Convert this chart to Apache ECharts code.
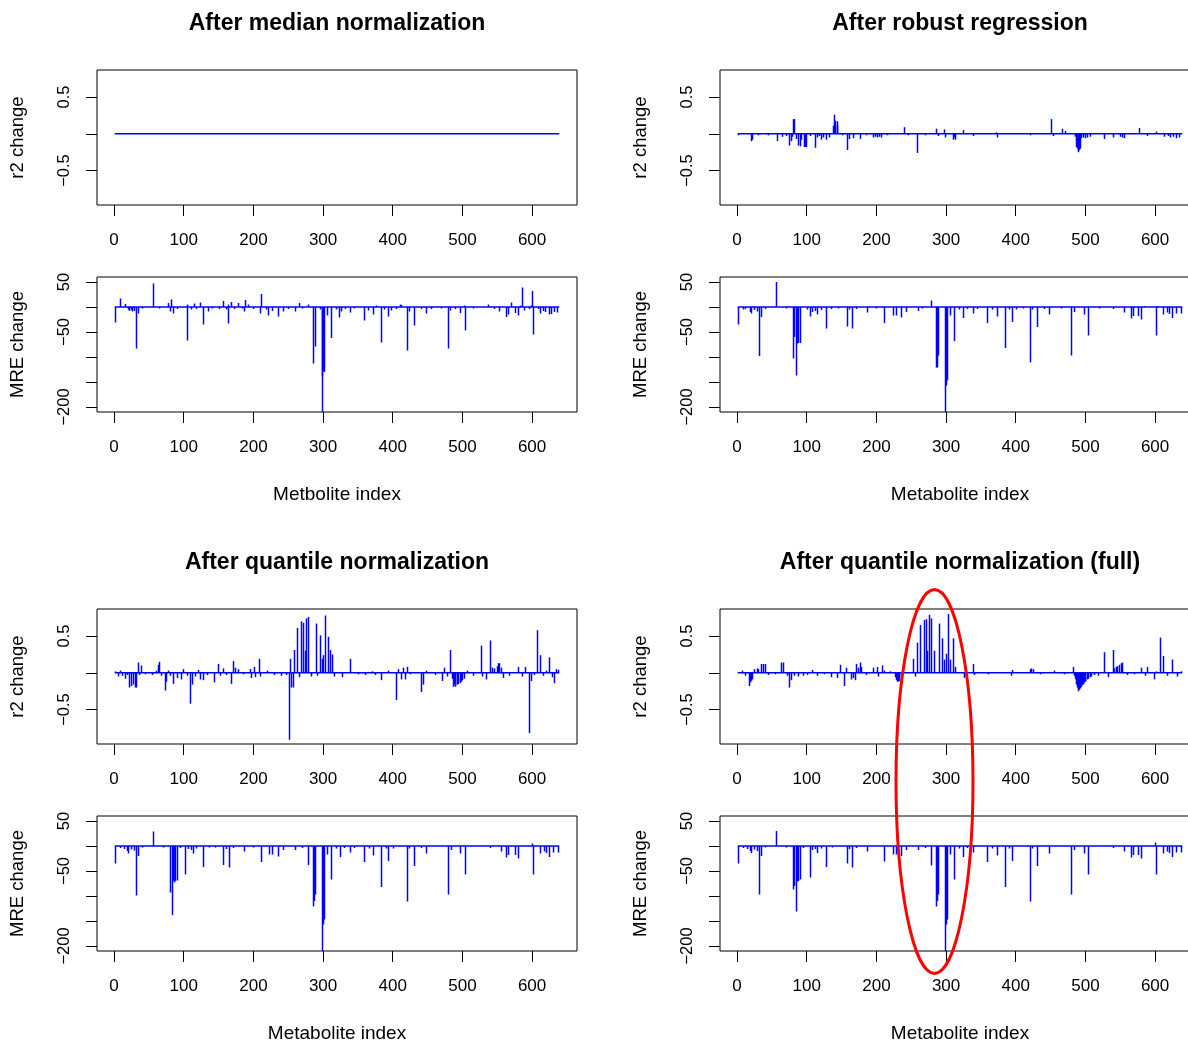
<!DOCTYPE html>
<html>
<head>
<meta charset="utf-8">
<script src="https://cdn.jsdelivr.net/npm/echarts@6/dist/echarts.min.js"></script>
<style>
  html, body { margin: 0; padding: 0; background: #fff; }
  #chart { width: 1188px; height: 1042px; }
</style>
</head>
<body>
<div id="chart"></div>
<script>
// ---- data -------------------------------------------------------------
const metaboliteCount = 639;
const xTicks = [0, 100, 200, 300, 400, 500, 600];
const r2Ticks = [-0.5, 0, 0.5];
const r2TickLabels = [-0.5, 0.5];
const mreTicks = [-200, -150, -100, -50, 0, 50];
const mreTickLabels = [-200, -50, 50];

const panelTitles = [
  'After median normalization',
  'After robust regression',
  'After quantile normalization',
  'After quantile normalization (full)'
];
const xAxisNames = ['Metbolite index', 'Metabolite index', 'Metabolite index', 'Metabolite index'];

// [metabolite index, change]; metabolites not listed have no change
const medianR2 = [];
const medianMRE = [[1,-31],[8,17],[15,6],[20,-5],[22,-8],[24,-6],[26,-9],[29,-8],[32,-83],[35,-13],[40,-3],[56,47],[65,-3],[78,8],[81,-9],[82,15],[85,-13],[90,-4],[104,-67],[105,5],[110,-5],[115,7],[118,-4],[123,9],[127,-35],[135,-9],[140,-3],[150,-4],[156,12],[160,-5],[163,5],[164,-33],[168,10],[172,-4],[178,8],[183,-3],[186,-9],[188,14],[192,5],[200,-4],[210,-13],[211,26],[218,-5],[221,-17],[227,-8],[235,-19],[242,-9],[250,-4],[259,-9],[265,8],[270,-3],[278,5],[286,-113],[289,-79],[295,-5],[298,-215],[299,-138],[300,-128],[301,-130],[306,-17],[312,-62],[318,-5],[323,-21],[326,-9],[332,-4],[338,-11],[345,-3],[359,-27],[365,-7],[372,-15],[376,3],[383,-71],[388,-5],[393,-19],[398,-7],[405,-4],[410,5],[412,4],[421,-87],[424,-9],[431,-37],[440,-4],[448,-13],[455,-4],[470,-3],[479,-83],[482,-7],[490,-4],[497,-12],[503,3],[504,-47],[515,-3],[537,5],[545,-4],[553,-9],[563,-20],[565,-15],[570,9],[575,-12],[580,-17],[583,3],[585,39],[589,-7],[595,-4],[599,3],[600,32],[602,-55],[608,-4],[612,-13],[616,-8],[619,-10],[624,-15],[627,-14],[632,-10],[636,-11]];

const robustR2 = [[1,-0.02],[20,-0.10],[21,-0.08],[30,-0.02],[45,-0.02],[58,-0.10],[64,-0.04],[70,-0.03],[74,-0.16],[77,-0.10],[79,-0.04],[81,0.20],[82,0.20],[85,-0.07],[88,-0.16],[90,-0.17],[92,-0.08],[96,-0.18],[98,-0.18],[99,-0.18],[105,-0.03],[112,-0.19],[115,-0.05],[118,-0.03],[120,-0.08],[124,-0.05],[128,-0.08],[132,-0.05],[137,0.11],[139,0.26],[141,0.18],[143,0.17],[144,0.12],[150,-0.02],[158,-0.22],[160,-0.07],[166,-0.06],[176,-0.07],[185,-0.02],[195,-0.05],[198,-0.04],[201,-0.05],[204,-0.04],[207,-0.05],[215,-0.02],[239,0.09],[245,-0.02],[258,-0.26],[270,-0.02],[286,0.07],[288,-0.03],[297,0.06],[298,-0.05],[310,-0.08],[311,-0.05],[313,-0.08],[324,0.05],[338,-0.03],[372,0.02],[373,-0.05],[420,-0.02],[450,0.20],[453,-0.03],[467,0.07],[471,0.04],[485,-0.04],[487,-0.18],[488,-0.20],[489,-0.23],[490,-0.25],[491,-0.22],[492,-0.20],[494,-0.06],[497,-0.05],[500,-0.06],[503,-0.05],[506,-0.04],[527,-0.07],[539,-0.05],[550,-0.04],[553,-0.05],[556,-0.06],[577,0.08],[589,-0.03],[602,0.03],[613,-0.04],[618,-0.03],[622,-0.05],[626,-0.04],[630,-0.06],[635,-0.05]];
const robustMRE = [[2,-35],[8,-5],[12,-4],[18,-10],[20,-13],[24,-6],[28,-9],[32,-98],[35,-20],[40,-4],[56,50],[70,-3],[81,-103],[82,-60],[84,-137],[86,-73],[88,-72],[91,-72],[100,-5],[104,-19],[108,-10],[112,-8],[115,-15],[120,-6],[128,-43],[135,-4],[145,-3],[158,-39],[160,-5],[165,-43],[170,-4],[186,-11],[200,-3],[211,-32],[224,-17],[228,-17],[236,-21],[243,-10],[259,-8],[265,-3],[279,13],[286,-121],[287,-121],[288,-97],[298,-215],[300,-157],[302,-147],[305,-17],[312,-68],[318,-5],[324,-22],[330,-4],[338,-13],[345,-4],[359,-32],[366,-5],[373,-19],[384,-82],[390,-5],[394,-30],[400,-5],[410,-3],[421,-111],[424,-5],[431,-40],[440,-4],[448,-15],[465,-3],[480,-97],[484,-10],[498,-15],[504,-57],[520,-3],[540,-4],[555,-11],[565,-23],[568,-18],[576,-18],[580,-25],[584,2],[601,-57],[603,2],[612,-15],[617,-11],[620,-14],[625,-22],[630,-13],[637,-13]];

const quantileR2 = [[1,0.02],[5,-0.05],[8,0.03],[12,-0.04],[15,-0.08],[18,-0.03],[22,-0.20],[25,-0.18],[27,-0.16],[30,-0.20],[32,-0.20],[34,0.14],[36,-0.03],[39,0.10],[45,-0.02],[55,-0.03],[60,0.03],[63,0.11],[65,0.15],[68,-0.04],[73,-0.24],[74,-0.12],[77,0.03],[80,-0.04],[84,-0.15],[90,-0.07],[96,-0.09],[99,0.05],[104,-0.04],[109,-0.42],[112,-0.16],[116,-0.05],[120,0.04],[123,-0.09],[128,-0.10],[133,-0.03],[144,-0.13],[149,0.12],[152,-0.04],[156,0.06],[160,-0.03],[168,-0.15],[170,0.16],[173,0.07],[178,0.05],[185,-0.02],[195,0.05],[196,-0.07],[201,0.08],[202,-0.06],[208,0.19],[210,-0.05],[220,0.03],[230,-0.03],[240,-0.04],[247,-0.03],[251,-0.91],[253,0.19],[254,-0.20],[257,-0.20],[258,0.31],[263,0.61],[265,-0.06],[269,0.70],[271,0.68],[274,0.30],[276,0.74],[278,0.76],[282,-0.05],[290,0.67],[291,-0.04],[295,0.51],[298,0.19],[300,0.24],[303,0.78],[307,0.49],[310,0.31],[313,0.25],[316,-0.05],[327,-0.06],[338,0.19],[350,-0.02],[360,-0.03],[370,0.02],[375,-0.03],[383,-0.10],[393,0.03],[404,-0.37],[407,0.05],[412,-0.09],[415,0.07],[418,-0.09],[420,0.08],[425,-0.02],[440,-0.26],[443,-0.16],[448,0.03],[460,-0.03],[471,-0.11],[473,0.07],[478,-0.05],[482,0.31],[485,-0.08],[487,-0.19],[488,-0.16],[489,-0.18],[490,-0.19],[492,-0.16],[494,-0.15],[496,-0.14],[498,-0.12],[500,-0.10],[502,-0.08],[507,0.03],[515,-0.04],[526,0.37],[528,-0.05],[534,-0.09],[539,0.44],[542,0.07],[545,0.06],[549,0.09],[551,0.13],[553,0.13],[555,0.07],[558,-0.07],[567,-0.04],[580,0.08],[585,-0.05],[590,0.08],[596,-0.82],[599,-0.11],[603,-0.03],[607,0.58],[611,0.24],[615,-0.04],[620,0.03],[625,0.21],[629,-0.06],[632,-0.14],[634,0.05],[637,0.04]];
const quantileMRE = [[1,-35],[8,-4],[14,-6],[18,-10],[20,-15],[24,-7],[28,-9],[32,-99],[35,-20],[40,-3],[56,29],[70,-3],[81,-93],[83,-138],[84,-70],[86,-73],[87,-70],[90,-69],[95,-4],[102,-57],[106,-6],[110,-8],[113,-15],[118,-5],[128,-42],[136,-3],[145,-3],[157,-38],[160,-6],[165,-43],[170,-4],[186,-11],[200,-3],[211,-32],[223,-17],[227,-17],[235,-21],[242,-8],[259,-8],[270,-4],[278,-38],[286,-121],[287,-110],[288,-97],[298,-215],[300,-157],[302,-147],[305,-17],[312,-67],[318,-5],[324,-22],[330,-4],[338,-13],[345,-4],[359,-32],[366,-5],[372,-19],[383,-82],[390,-5],[393,-30],[400,-5],[421,-111],[424,-5],[431,-40],[440,-4],[448,-15],[479,-97],[483,-8],[497,-15],[504,-57],[540,-4],[555,-11],[563,-23],[566,-18],[575,-18],[580,-25],[600,5],[601,-57],[612,-15],[617,-11],[620,-14],[625,-22],[630,-13],[637,-13]];

const fullR2 = [[1,0.01],[7,0.03],[12,-0.04],[17,-0.18],[19,-0.13],[20,-0.11],[22,-0.09],[25,0.05],[28,0.06],[30,0.05],[34,0.12],[37,0.12],[40,0.12],[45,-0.03],[55,-0.02],[63,0.14],[66,0.14],[71,-0.04],[74,-0.20],[77,-0.10],[82,-0.04],[88,-0.05],[95,-0.04],[100,-0.03],[108,0.04],[115,-0.04],[125,-0.02],[135,-0.06],[144,-0.07],[148,0.11],[153,-0.18],[156,0.07],[163,-0.09],[166,-0.07],[169,-0.10],[171,0.12],[173,0.07],[176,0.14],[178,0.08],[185,-0.03],[195,0.07],[201,0.08],[203,-0.05],[208,0.10],[211,0.03],[220,0.02],[226,-0.06],[228,-0.10],[230,-0.12],[231,-0.12],[233,-0.11],[235,-0.05],[253,0.19],[256,-0.05],[258,0.41],[263,0.65],[268,0.72],[271,0.73],[273,0.30],[276,0.79],[278,0.74],[283,0.30],[290,0.67],[294,0.47],[297,0.18],[300,0.26],[303,0.80],[305,0.18],[310,0.47],[313,0.08],[326,-0.07],[338,0.12],[340,-0.03],[360,-0.02],[393,-0.04],[394,0.04],[420,0.05],[422,0.06],[425,0.05],[435,-0.02],[455,0.03],[470,-0.02],[482,0.08],[484,-0.04],[485,-0.08],[486,-0.10],[487,-0.16],[488,-0.20],[489,-0.22],[490,-0.25],[491,-0.23],[492,-0.21],[493,-0.19],[494,-0.18],[495,-0.16],[496,-0.16],[497,-0.14],[498,-0.13],[499,-0.12],[500,-0.11],[502,-0.09],[504,-0.08],[506,-0.06],[508,-0.05],[513,-0.03],[518,-0.04],[527,0.28],[532,-0.06],[539,0.31],[541,0.06],[544,0.08],[546,0.09],[548,0.11],[551,0.13],[553,0.14],[560,-0.03],[570,-0.02],[580,0.07],[586,-0.04],[589,0.08],[598,-0.09],[602,0.02],[607,0.48],[611,0.23],[617,-0.04],[625,0.18],[632,-0.05],[637,0.02]];
const fullMRE = [[2,-35],[8,-4],[14,-6],[18,-10],[20,-14],[24,-7],[28,-10],[32,-97],[35,-20],[40,-3],[56,30],[70,-3],[81,-87],[82,-80],[84,-131],[86,-71],[88,-70],[91,-67],[95,-4],[104,-63],[108,-8],[112,-6],[115,-14],[120,-5],[128,-42],[136,-3],[158,-35],[160,-6],[165,-43],[170,-4],[186,-11],[211,-31],[224,-17],[228,-17],[236,-20],[243,-8],[259,-8],[270,-4],[278,-39],[286,-121],[287,-110],[288,-97],[298,-215],[300,-157],[302,-147],[305,-17],[312,-67],[318,-5],[324,-22],[330,-4],[338,-13],[359,-32],[366,-5],[373,-19],[384,-82],[390,-5],[394,-30],[421,-111],[424,-5],[431,-40],[448,-15],[480,-97],[484,-8],[498,-15],[504,-57],[540,-4],[555,-11],[565,-23],[568,-18],[576,-18],[580,-25],[600,7],[601,-57],[612,-15],[617,-11],[620,-14],[625,-22],[630,-13],[637,-13]];

const r2Series = [medianR2, robustR2, quantileR2, fullR2];
const mreSeries = [medianMRE, robustMRE, quantileMRE, fullMRE];

// ---- layout ----------------------------------------------------------
const FONT = '"Liberation Sans", Arial, Helvetica, sans-serif';
const BLUE = '#0000ff';
const colLeft = [97, 720];
const rowTop = [0, 539];
const boxW = 480, boxH = 135;

const fmt = v => (v < 0 ? '\u2212' + Math.abs(v) : String(v));

const grids = [], xAxes = [], yAxes = [], series = [], titles = [];

function addPanel(left, top, isR2, data, xName) {
  const idx = grids.length;
  grids.push({
    left, top, width: boxW, height: boxH,
    outerBoundsMode: 'none', containLabel: false,
    show: true, borderColor: '#000', borderWidth: 1, backgroundColor: 'transparent'
  });
  xAxes.push({
    type: 'value', gridIndex: idx, min: -24.5, max: 664.5,
    axisLine: { show: false, onZero: false },
    splitLine: { show: false },
    axisTick: { show: true, customValues: xTicks, length: 11, lineStyle: { color: '#000', width: 1 } },
    axisLabel: { customValues: xTicks, margin: 27, fontSize: 17, color: '#000', fontFamily: FONT },
    name: xName || '',
    nameLocation: 'middle', nameGap: 73,
    nameTextStyle: { fontSize: 19, color: '#000', fontFamily: FONT }
  });
  yAxes.push({
    type: 'value', gridIndex: idx,
    min: isR2 ? -0.968 : -210, max: isR2 ? 0.868 : 60,
    axisLine: { show: false, onZero: false },
    splitLine: { show: false },
    axisTick: { show: true, customValues: isR2 ? r2Ticks : mreTicks, length: 11, lineStyle: { color: '#000', width: 1 } },
    axisLabel: {
      customValues: isR2 ? r2TickLabels : mreTickLabels, rotate: 90, margin: 24,
      fontSize: 16.5, color: '#000', fontFamily: FONT, formatter: fmt
    },
    name: isR2 ? 'r2 change' : 'MRE change',
    nameLocation: 'middle', nameGap: 70,
    nameTextStyle: { fontSize: 18.5, color: '#000', fontFamily: FONT }
  });
  // zero line the stems rise from
  series.push({
    type: 'line', xAxisIndex: idx, yAxisIndex: idx, silent: true, animation: false,
    symbol: 'none', data: [[1, 0], [metaboliteCount, 0]],
    lineStyle: { color: BLUE, width: 1.5 }
  });
  // one vertical stem per metabolite
  series.push({
    type: 'custom', xAxisIndex: idx, yAxisIndex: idx, silent: true, animation: false,
    clip: true, data, encode: { x: 0, y: 1 },
    renderItem(params, api) {
      const x = api.value(0), v = api.value(1);
      const a = api.coord([x, 0]), b = api.coord([x, v]);
      const px = Math.round(a[0]) + 0.5;
      return {
        type: 'line',
        shape: { x1: px, y1: a[1], x2: px, y2: b[1] },
        style: { stroke: BLUE, lineWidth: 1.5 }
      };
    }
  });
}

for (let p = 0; p < 4; p++) {
  const col = p % 2, row = Math.floor(p / 2);
  const left = colLeft[col], off = rowTop[row];
  titles.push({
    text: panelTitles[p], left: left + boxW / 2, top: 12 + off, textAlign: 'center', padding: 0,
    textStyle: { fontSize: 23, fontWeight: 'bold', color: '#000', fontFamily: FONT }
  });
  addPanel(left, 70 + off, true, r2Series[p], null);
  addPanel(left, 277 + off, false, mreSeries[p], xAxisNames[p]);
}

const chart = echarts.init(document.getElementById('chart'), null, { renderer: 'canvas' });
chart.setOption({
  backgroundColor: '#fff',
  animation: false,
  title: titles,
  grid: grids,
  xAxis: xAxes,
  yAxis: yAxes,
  series,
  graphic: [{
    type: 'ellipse', z: 100, silent: true,
    shape: { cx: 934.5, cy: 781.5, rx: 38.5, ry: 192 },
    style: { fill: 'none', stroke: '#ff0000', lineWidth: 3 }
  }]
});
</script>
</body>
</html>
